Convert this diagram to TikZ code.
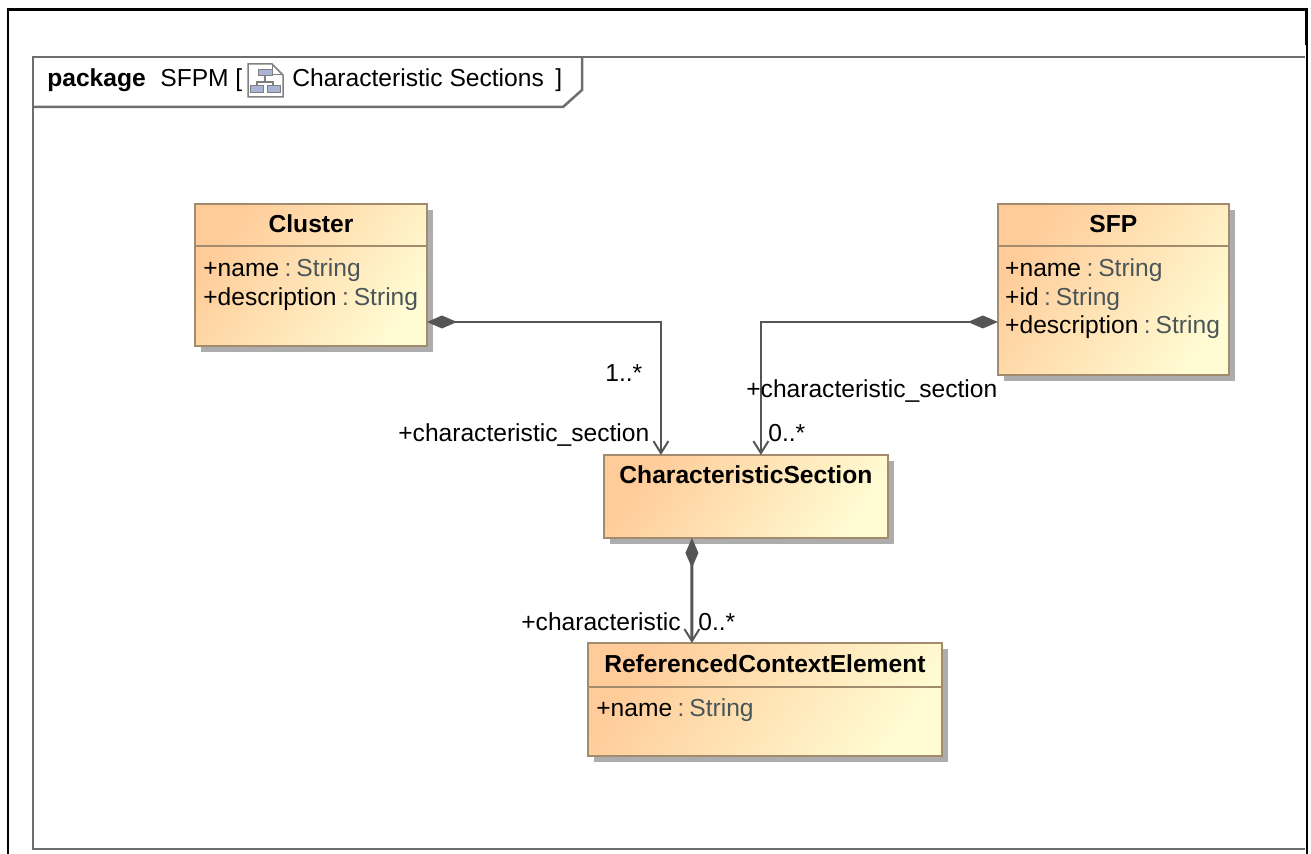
\documentclass[tikz,border=0pt]{standalone}
\usepackage{fontspec}
\setmainfont{Liberation Sans}
\usetikzlibrary{arrows.meta,positioning,shadows}

\definecolor{boxleft}{HTML}{FFCB98}
\definecolor{boxright}{HTML}{FFFBD2}
\definecolor{boxline}{HTML}{A38C6E}
\definecolor{linkgray}{HTML}{555555}
\definecolor{framegray}{HTML}{6E6E6E}
\definecolor{typegray}{HTML}{4A5558}
\definecolor{iconblue}{HTML}{A9B4D6}

\newcommand{\attr}[2]{+#1\hspace{0.22em}\textcolor{typegray}{:\hspace{0.2em}#2}}

\begin{document}
\begin{tikzpicture}[x=0.02cm,y=-0.02cm]

      \tikzstyle{classbox}=[rectangle,draw=boxline,line width=0.05cm,
        inner sep=0pt,outer sep=0pt,
        left color=boxleft,right color=boxright,shading angle=55,
        drop shadow={shadow xshift=0.12cm,shadow yshift=-0.12cm,
          fill=black!32,opacity=1}]
      \tikzstyle{classtitle}=[inner sep=0pt,font=\fontsize{14}{17}\selectfont\bfseries]
      \tikzstyle{attrlist}=[inner sep=0pt,anchor=north west,align=left,
        font=\fontsize{14}{16.44}\selectfont]
      \tikzstyle{rolelabel}=[inner sep=0pt,anchor=base west,
        font=\fontsize{14}{17}\selectfont]
      \tikzstyle{separator}=[draw=boxline,line width=0.04cm]
      \tikzstyle{composite}=[draw=linkgray,line width=0.05cm,
        {Diamond[length=0.6cm,width=0.26cm]}-{Straight Barb[length=0.24cm,width=0.3cm,line width=0.04cm]}]

      \useasboundingbox (0,0) rectangle (1311,854);

      % sheet and package frame
      \draw [line width=0.06cm] (8,854)--(8,10)--(1306,10)--(1306,45);
      \draw [line width=0.04cm] (1307,45)--(1307,854);
      \draw [framegray,line width=0.05cm] (1305,57)--(33,57)--(33,849)--(1305,849);
      \draw [framegray,line width=0.05cm] (33,107)--(563,107)--(582,90)--(582,57);

      \node(PackageWord)[rolelabel,font=\fontsize{14}{17}\selectfont\bfseries] at (47,87){package};
      \node(PackageName)[rolelabel] at (160,87){SFPM [};
      \node(PackageTitle)[rolelabel] at (292,87){Characteristic Sections};
      \node(PackageEnd)[rolelabel] at (555,87){]};

      % diagram icon
      \draw [gray,fill=white,line width=0.03cm] (248,64)--(272,64)--(283,75)--(283,97)--(248,97)--cycle;
      \draw [gray,line width=0.02cm] (272,64)--(272,75)--(283,75);
      \draw [gray,line width=0.03cm] (265,76)--(265,82) (257,86)--(257,82)--(273,82)--(273,86);
      \draw [gray,fill=iconblue,line width=0.02cm] (258,70) rectangle (272,76);
      \draw [gray,fill=iconblue,line width=0.02cm] (250,86) rectangle (263,93);
      \draw [gray,fill=iconblue,line width=0.02cm] (267,86) rectangle (280,93);

      \node(Cluster)[classbox,minimum width=4.64cm,minimum height=2.84cm] at (311,275){};
      \node(SFP)[classbox,minimum width=4.62cm,minimum height=3.42cm,
        right=11.42cm of Cluster.north east,anchor=north west]{};
      \node(Section)[classbox,minimum width=5.68cm,minimum height=1.66cm,
        below=2.18cm of Cluster.south east,anchor=north west,xshift=3.54cm]{};
      \node(Element)[classbox,minimum width=7.08cm,minimum height=2.26cm,
        below=2.1cm of Section.south west,anchor=north west,xshift=-0.32cm]{};

      \node(ClusterTitle)[classtitle] at ([yshift=-0.4cm]Cluster.north){Cluster};
      \node(SFPTitle)[classtitle] at ([yshift=-0.4cm]SFP.north){SFP};
      \node(SectionTitle)[classtitle] at ([yshift=-0.4cm]Section.north){CharacteristicSection};
      \node(ElementTitle)[classtitle] at ([yshift=-0.42cm]Element.north){ReferencedContextElement};

      \draw [separator] ([yshift=-0.84cm]Cluster.north west)--([yshift=-0.84cm]Cluster.north east);
      \draw [separator] ([yshift=-0.84cm]SFP.north west)--([yshift=-0.84cm]SFP.north east);
      \draw [separator] ([yshift=-0.88cm]Element.north west)--([yshift=-0.88cm]Element.north east);

      \node(ClusterAttrs)[attrlist] at ([xshift=0.16cm,yshift=-1.08cm]Cluster.north west)
        {\attr{name}{String}\\\attr{description}{String}};
      \node(SFPAttrs)[attrlist] at ([xshift=0.14cm,yshift=-1.08cm]SFP.north west)
        {\attr{name}{String}\\\attr{id}{String}\\\attr{description}{String}};
      \node(ElementAttrs)[attrlist] at ([xshift=0.16cm,yshift=-1.1cm]Element.north west)
        {\attr{name}{String}};

      \draw [composite] ([yshift=-0.94cm]Cluster.east)-|([xshift=-1.7cm]Section.north);
      \draw [composite] ([yshift=-0.65cm]SFP.west)-|([xshift=0.3cm]Section.north);
      \draw [composite,line width=0.06cm] ([xshift=-1.08cm]Section.south)--([xshift=-1.46cm]Element.north);

      \node(ClusterMult)[rolelabel] at (605,382){1..*};
      \node(ClusterRole)[rolelabel] at (398,441){+characteristic\_section};
      \node(SFPRole)[rolelabel] at (746,398){+characteristic\_section};
      \node(SFPMult)[rolelabel] at (768,441){0..*};
      \node(ElementRole)[rolelabel] at (521,630){+characteristic};
      \node(ElementMult)[rolelabel] at (698,630){0..*};

    \end{tikzpicture}
\end{document}
